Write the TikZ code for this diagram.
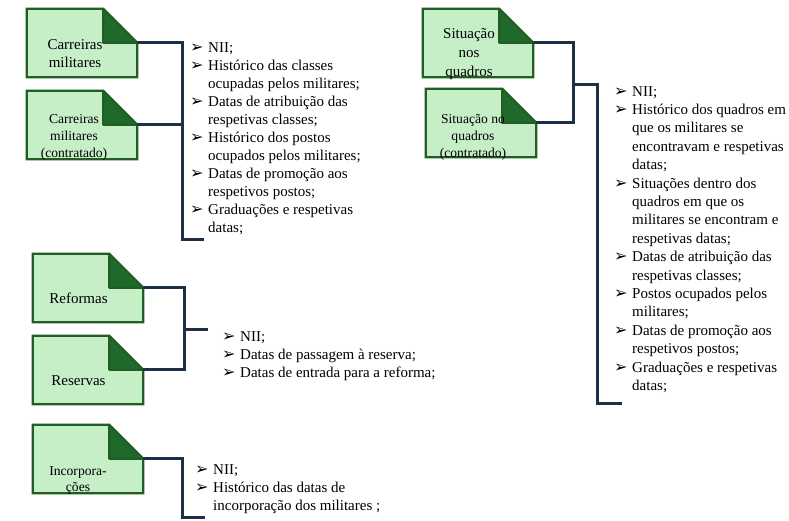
\documentclass[tikz,border=0pt]{standalone}
\usepackage{fontspec}
\setmainfont{Liberation Serif}
\newfontfamily\symfont{DejaVu Sans}

\definecolor{boxfill}{RGB}{198,239,200}
\definecolor{boxedge}{RGB}{33,94,36}
\definecolor{flapgreen}{RGB}{31,106,43}
\definecolor{navyline}{RGB}{30,48,70}

\tikzset{
  doc/.style={minimum width=110pt, minimum height=68pt, inner sep=0pt, draw=none},
  conn/.style={draw=navyline, line width=3pt, miter limit=10},
  lbl/.style={align=center, inner sep=0pt},
  itemtxt/.style={anchor=base west, inner sep=0pt, font=\fontsize{15}{18}\selectfont},
  bul/.style={anchor=base west, inner sep=0pt, font=\symfont\fontsize{16}{16}\selectfont},
}

% folded-corner document frame around a named node; defines <name>-f at the fold
\newcommand\docframe[1]{%
  \filldraw[fill=boxfill, draw=boxedge, line width=2.2pt]
    (#1.north west) -- ([xshift=-34pt]#1.north east) -- ([yshift=-34pt]#1.north east)
    -- (#1.south east) -- (#1.south west) -- cycle;
  \filldraw[fill=flapgreen, draw=boxedge, line width=2.2pt, line join=round]
    ([xshift=-34pt]#1.north east) -- ([xshift=-34pt,yshift=-34pt]#1.north east)
    -- ([yshift=-34pt]#1.north east) -- cycle;
  \coordinate (#1-f) at ([yshift=-34pt]#1.north east);}

\begin{document}
\begin{tikzpicture}[x=1pt,y=-1pt]
\useasboundingbox (0,0) rectangle (789,520);

% document boxes
\node[doc] (c1) at (82,43) {};   \docframe{c1}
\node[doc] (c2) at (82,125) {};  \docframe{c2}
\node[doc] (s1) at (478,43) {};  \docframe{s1}
\node[doc] (s2) at (481,123) {}; \docframe{s2}
\node[doc] (r1) at (88,288) {};  \docframe{r1}
\node[doc] (r2) at (88,370) {};  \docframe{r2}
\node[doc] (i1) at (88,459) {};  \docframe{i1}

% box labels
\node[lbl, font=\fontsize{15}{18}\selectfont] (c1t) at (75,54) {Carreiras\\militares};
\node[lbl, font=\fontsize{13.6}{17}\selectfont] (c2t) at (74,137) {Carreiras\\militares\\(contratado)};
\node[lbl, font=\fontsize{15}{19}\selectfont] (s1t) at (469,54.5) {Situação\\nos\\quadros};
\node[lbl, font=\fontsize{13.6}{17}\selectfont] (s2t) at (473,137) {Situação no\\quadros\\(contratado)};
\node[lbl, font=\fontsize{15}{18}\selectfont] (r1t) at (78.5,298.5) {Reformas};
\node[lbl, font=\fontsize{15}{18}\selectfont] (r2t) at (78.5,381) {Reservas};
\node[lbl, font=\fontsize{13.6}{16}\selectfont] (i1t) at (78,480.5) {Incorpora-\\ções};

% connectors
\coordinate (g1) at (182,239); \coordinate (g1e) at (204,239);
\draw[conn] (c1-f) -| (g1) -- (g1e);
\draw[conn] (c2-f) -- (c2-f -| g1);

\coordinate (g2) at (573,84); \coordinate (g2b) at (597,403); \coordinate (g2e) at (622,403);
\draw[conn] (s1-f) -| (g2 |- s2-f) -- (s2-f);
\draw[conn] (g2) -| (g2b) -- (g2e);

\coordinate (g3) at (184,329); \coordinate (g3e) at (208,329);
\draw[conn] (r1-f) -| (g3 |- r2-f) -- (r2-f);
\draw[conn] (g3) -- (g3e);

\coordinate (g4) at (182,517); \coordinate (g4e) at (205,517);
\draw[conn] (i1-f) -| (g4) -- (g4e);

% item lists
\foreach \t [count=\i from 0] in {NII;, Histórico das classes, ocupadas pelos militares;,
  Datas de atribuição das, respetivas classes;, Histórico dos postos,
  ocupados pelos militares;, Datas de promoção aos, respetivos postos;,
  Graduações e respetivas, datas;}
  {\node[itemtxt] (a\i) at (208,{52+18*\i}) {\t};}
\foreach \i in {0,1,3,5,7,9} {\node[bul] (ab\i) at ([xshift=-18pt]a\i.base west) {➢};}

\foreach \t [count=\i from 0] in {NII;, Histórico dos quadros em, que os militares se,
  encontravam e respetivas, datas;, Situações dentro dos, quadros em que os,
  militares se encontram e, respetivas datas;, Datas de atribuição das,
  respetivas classes;, Postos ocupados pelos, militares;, Datas de promoção aos,
  respetivos postos;, Graduações e respetivas, datas;}
  {\node[itemtxt] (b\i) at (632,{96+18.4*\i}) {\t};}
\foreach \i in {0,1,5,9,11,13,15} {\node[bul] (bb\i) at ([xshift=-18pt]b\i.base west) {➢};}

\foreach \t [count=\i from 0] in {NII;, Datas de passagem à reserva;, Datas de entrada para a reforma;}
  {\node[itemtxt] (m\i) at (240,{341+18*\i}) {\t};}
\foreach \i in {0,1,2} {\node[bul] (mb\i) at ([xshift=-18pt]m\i.base west) {➢};}

\foreach \t [count=\i from 0] in {NII;, Histórico das datas de, incorporação dos militares ;}
  {\node[itemtxt] (n\i) at (213,{474+18*\i}) {\t};}
\foreach \i in {0,1} {\node[bul] (nb\i) at ([xshift=-18pt]n\i.base west) {➢};}
\end{tikzpicture}
\end{document}
